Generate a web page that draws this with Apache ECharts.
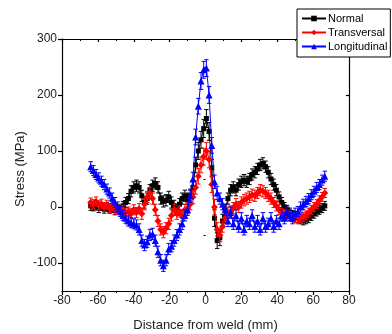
<!DOCTYPE html>
<html><head><meta charset="utf-8">
<script src="https://cdn.jsdelivr.net/npm/echarts@6/dist/echarts.min.js"></script>
<style>html,body{margin:0;padding:0;background:#fff}#c{width:392px;height:334px}</style>
</head><body><div id="c"></div>
<script>
var xs = [
 -64, -62.5, -61, -59.5, -58, -56.5, -55, -53.5, -52, -50.5, -49,
 -47.5, -46, -44.5, -43, -41.5, -40, -38.5, -37, -35.5, -34, -32.5,
 -31, -29.5, -28, -26.5, -25, -23.5, -22, -20.5, -19, -17.5, -16,
 -14.5, -13, -11.5, -10, -8.5, -7, -5.5, -4, -2.5, -1, 0.5,
 2, 3.5, 5, 6.5, 8, 9.5, 11, 12.5, 14, 15.5, 17,
 18.5, 20, 21.5, 23, 24.5, 26, 27.5, 29, 30.5, 32, 33.5,
 35, 36.5, 38, 39.5, 41, 42.5, 44, 45.5, 47, 48.5, 50,
 51.5, 53, 54.5, 56, 57.5, 59, 60.5, 62, 63.5, 65, 66.5];
var normal = [
 2, 0, 3, -2, 1, -3, 0, -4, -2, -6, -3,
 -5, 2, 8, 15, 28, 35, 38, 35, 20, 8, 15,
 30, 38, 42, 35, 15, 10, 12, 18, 8, 2, -5,
 5, 15, 20, 15, 20, 35, 75, 100, 120, 140, 158,
 135, 70, -20, -60, -55, -25, -5, 15, 30, 35, 30,
 40, 45, 48, 45, 50, 58, 62, 68, 75, 78, 72,
 62, 50, 40, 30, 18, 8, 0, -5, -10, -14, -16,
 -20, -22, -24, -22, -20, -16, -12, -8, -5, -2, 2];
var transversal = [
 8, 5, 10, 3, 6, 0, 4, -2, 2, -5, -3,
 -8, -5, -10, -8, -12, -5, -10, -3, -12, 5, 18,
 25, 15, -5, -25, -40, -45, -38, -30, -15, -5, -12,
 -8, -15, -5, -2, 5, 18, 35, 55, 75, 90, 100,
 85, 40, 0, -40, -50, -35, -20, -10, -8, -2, 5,
 0, 8, 12, 15, 18, 22, 20, 25, 30, 28, 25,
 20, 15, 8, 2, -5, -10, -12, -15, -16, -18, -20,
 -22, -20, -18, -15, -10, -5, 0, 5, 12, 18, 25];
var longitudinal = [
 72, 65, 58, 52, 46, 40, 32, 25, 16, 8, 0,
 -8, -15, -20, -25, -28, -30, -32, -40, -60, -68, -62,
 -50, -48, -60, -80, -95, -105, -95, -75, -70, -60, -50,
 -40, -30, -15, -5, 20, 50, 125, 180, 225, 245, 248,
 200, 110, 45, 25, 15, 5, -5, -25, -10, -30, -15,
 -35, -20, -40, -25, -30, -15, -35, -25, -40, -20, -35,
 -30, -20, -35, -25, -30, -15, -20, -10, -15, -20, -12,
 -8, 0, 5, 10, 15, 22, 28, 35, 40, 48, 55];
var errNormal = [
 8, 7, 8, 8, 7, 8, 8, 7, 8, 8, 7,
 8, 8, 9, 9, 10, 10, 10, 10, 10, 10, 10,
 10, 10, 10, 10, 10, 10, 10, 10, 10, 10, 10,
 10, 10, 10, 10, 10, 12, 14, 15, 15, 16, 16,
 16, 15, 15, 14, 14, 12, 10, 10, 10, 10, 10,
 10, 10, 10, 10, 10, 10, 10, 10, 10, 10, 10,
 10, 10, 10, 10, 9, 9, 8, 8, 8, 8, 8,
 8, 8, 8, 8, 8, 8, 8, 8, 8, 8, 8];
var errTransversal = [
 8, 8, 8, 8, 8, 8, 8, 8, 8, 8, 8,
 8, 8, 8, 8, 9, 9, 9, 9, 10, 10, 10,
 10, 10, 10, 10, 10, 10, 10, 10, 10, 10, 10,
 10, 10, 10, 10, 10, 12, 12, 14, 14, 15, 15,
 15, 14, 14, 12, 12, 10, 10, 10, 10, 10, 10,
 10, 10, 10, 10, 10, 10, 10, 10, 10, 10, 10,
 10, 10, 9, 9, 9, 8, 8, 8, 8, 8, 8,
 8, 8, 8, 8, 8, 8, 8, 8, 8, 8, 8];
var errLongitudinal = [
 9, 9, 9, 9, 9, 9, 9, 9, 9, 9, 9,
 9, 9, 9, 9, 9, 9, 9, 10, 10, 10, 10,
 10, 10, 10, 10, 10, 10, 10, 10, 10, 10, 10,
 10, 10, 10, 10, 12, 12, 14, 14, 15, 15, 15,
 15, 14, 12, 12, 10, 10, 10, 10, 10, 10, 10,
 10, 10, 10, 10, 10, 10, 10, 10, 10, 10, 10,
 10, 10, 10, 10, 10, 10, 10, 10, 10, 10, 10,
 9, 9, 9, 9, 9, 9, 9, 9, 9, 9, 9];
var yMajor = [-100, 0, 100, 200, 300];
var yMinor = [-150, -50, 50, 150, 250];

var FONT = 'Liberation Sans, Arial, sans-serif';
function pairs(ys){ return xs.map(function(x,i){ return [x, ys[i]]; }); }
function errSeries(color, ys, es, z){
  return {
    type: 'custom', silent: true, z: z,
    data: xs.map(function(x,i){ return [x, ys[i], es[i]]; }),
    encode: {x: 0, y: 1},
    renderItem: function(params, api){
      var x = api.value(0), y = api.value(1), e = api.value(2);
      var t = api.coord([x, y + e]), b = api.coord([x, y - e]);
      var w = 2.2;
      var st = {stroke: color, lineWidth: 1};
      return {type: 'group', children: [
        {type: 'line', shape: {x1: t[0], y1: t[1], x2: b[0], y2: b[1]}, style: st},
        {type: 'line', shape: {x1: t[0]-w, y1: t[1], x2: t[0]+w, y2: t[1]}, style: st},
        {type: 'line', shape: {x1: b[0]-w, y1: b[1], x2: b[0]+w, y2: b[1]}, style: st}
      ]};
    }
  };
}
function lineSeries(name, color, symbol, size, ys, z){
  return {
    type: 'line', name: name, data: pairs(ys), z: z,
    symbol: symbol, symbolSize: size, showAllSymbol: true,
    lineStyle: {color: color, width: 1},
    itemStyle: {color: color, borderWidth: 0},
    emphasis: {disabled: true}, animation: false
  };
}
var chart = echarts.init(document.getElementById('c'), null, {renderer: 'canvas'});
var axisLineStyle = {color: '#000', width: 1.2};
chart.setOption({
  animation: false,
  backgroundColor: '#fff',
  grid: {left: 62, right: 43, top: 39, bottom: 43, containLabel: false, outerBoundsMode: 'none'},
  graphic: [{
    type: 'text', x: 20, y: 169, rotation: Math.PI / 2, z: 10,
    style: {text: 'Stress (MPa)', fontFamily: FONT, fontSize: 13, fill: '#222',
            align: 'center', verticalAlign: 'middle'}
  }],
  legend: {
    orient: 'vertical', left: 297, top: 9,
    data: ['Normal', 'Transversal', 'Longitudinal'],
    backgroundColor: '#fff', borderColor: '#000', borderWidth: 1,
    padding: [4, 3, 5, 4], itemGap: 3, itemWidth: 24, itemHeight: 7,
    textStyle: {fontFamily: FONT, fontSize: 11, color: '#000', padding: [0, 0, 0, -3]},
    z: 10
  },
  xAxis: [{
    type: 'value', min: -80, max: 80, interval: 20, position: 'bottom',
    name: 'Distance from weld (mm)', nameLocation: 'middle', nameGap: 28,
    nameTextStyle: {fontFamily: FONT, fontSize: 13, color: '#222'},
    axisLine: {show: true, onZero: false, lineStyle: axisLineStyle},
    axisTick: {show: true, length: 4, lineStyle: {color: '#000', width: 1.2}},
    minorTick: {show: true, splitNumber: 2, length: 2, lineStyle: {color: '#000', width: 1}},
    axisLabel: {fontFamily: FONT, fontSize: 12, color: '#222', margin: 4},
    splitLine: {show: false}
  }, {
    type: 'value', min: -80, max: 80, interval: 20, position: 'top',
    axisLine: {show: true, onZero: false, lineStyle: axisLineStyle},
    axisTick: {show: true, inside: true, length: 3, lineStyle: {color: '#000', width: 1.2}},
    minorTick: {show: true, splitNumber: 2, length: 2, lineStyle: {color: '#000', width: 1}},
    axisLabel: {show: false}, splitLine: {show: false}
  }],
  yAxis: [{
    type: 'value', min: -150, max: 300, position: 'left',
    axisLine: {show: true, onZero: false, lineStyle: axisLineStyle},
    axisTick: {show: true, length: 4, customValues: yMajor, lineStyle: {color: '#000', width: 1.2}},
    axisLabel: {fontFamily: FONT, fontSize: 12, color: '#222', margin: 5, customValues: yMajor},
    splitLine: {show: false}
  }, {
    type: 'value', min: -150, max: 300, position: 'left',
    axisLine: {show: false},
    axisTick: {show: true, length: 2, customValues: yMinor, lineStyle: {color: '#000', width: 1}},
    axisLabel: {show: false}, splitLine: {show: false}
  }, {
    type: 'value', min: -150, max: 300, position: 'right',
    axisLine: {show: true, onZero: false, lineStyle: axisLineStyle},
    axisTick: {show: true, inside: true, length: 3, customValues: yMajor, lineStyle: {color: '#000', width: 1.2}},
    axisLabel: {show: false}, splitLine: {show: false}
  }],
  series: [
    errSeries('#000', normal, errNormal, 2),
    lineSeries('Normal', '#000', 'rect', 5, normal, 3),
    errSeries('#ff0000', transversal, errTransversal, 4),
    lineSeries('Transversal', '#ff0000', 'diamond', 7, transversal, 5),
    errSeries('#0000ff', longitudinal, errLongitudinal, 6),
    lineSeries('Longitudinal', '#0000ff', 'triangle', 7, longitudinal, 7)
  ]
});
</script></body></html>
